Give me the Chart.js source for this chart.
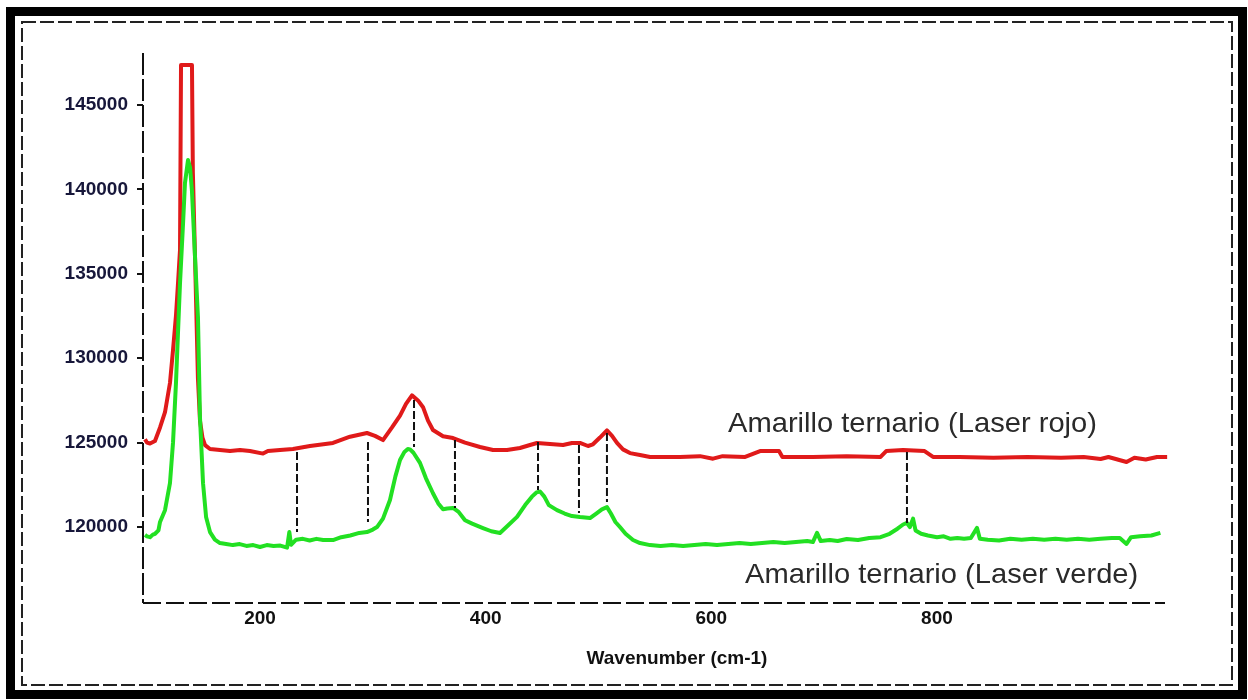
<!DOCTYPE html>
<html>
<head>
<meta charset="utf-8">
<script src="https://cdn.jsdelivr.net/npm/chart.js@4"></script>
<style>
  html, body { margin: 0; padding: 0; background: #fff; }
  #wrap { width: 1248px; height: 700px; }
</style>
</head>
<body>
<div id="wrap"><canvas id="ramanChart" width="1248" height="700"></canvas></div>
<script>
// ============================================================
// Espectros Raman — Amarillo ternario (láser rojo / verde)
// ============================================================

const FONT = '"Liberation Sans", Arial, sans-serif';

const seriesLabels = ['Amarillo ternario (Laser rojo)', 'Amarillo ternario (Laser verde)'];
const axisTitle    = 'Wavenumber (cm-1)';

const xTicks = [200, 400, 600, 800];
const yTicks = [120000, 125000, 130000, 135000, 140000, 145000];

// Laser rojo
const redWavenumber = [98.1, 99.8, 102.5, 106.9, 111.4, 115.8, 120.2, 122.9, 125.5, 127.3, 129.1, 130.0, 139.7, 140.5, 142.4, 145.0,
    146.8, 149.0, 151.3, 155.7, 164.5, 173.4, 182.3, 191.1, 202.7, 207.0, 217.7, 229.2, 244.3, 264.7, 279.8, 294.8, 301.9,
    309.0, 317.0, 324.1, 329.4, 334.7, 340.0, 344.5, 348.9, 353.3, 362.2, 371.1, 381.7, 395.0, 406.5, 418.9, 430.4,
    439.3, 445.5, 457.0, 468.6, 476.5, 483.6, 490.7, 495.1, 501.3, 507.5, 512.0, 516.4, 521.7, 527.9, 536.8, 545.7,
    554.5, 572.2, 590.0, 601.5, 610, 630, 643.2, 660, 663, 690, 720, 750, 755, 770, 789, 796.5, 820, 850, 880, 910,
    930, 945, 952, 968, 975, 985, 995, 1004];
const redIntensity = [125200, 125000, 124950, 125100, 125900, 126800, 128530, 130480, 132500, 134400, 136400, 147370, 147370, 141000, 136000, 128800,
    126300, 125300, 124850, 124620, 124560, 124500, 124560, 124500, 124350, 124500, 124560, 124620, 124800, 124980, 125350, 125570, 125400,
    125150, 125900, 126600, 127300, 127800, 127500, 127100, 126300, 125750, 125380, 125270, 125000, 124740, 124560, 124560, 124680,
    124860, 124980, 124920, 124860, 124980, 124980, 124800, 124900, 125300, 125720, 125400, 124980, 124600, 124380, 124270, 124150,
    124150, 124150, 124200, 124050, 124200, 124150, 124500, 124500, 124150, 124150, 124200, 124150, 124500, 124560, 124500, 124150, 124150, 124100, 124150, 124100,
    124150, 124030, 124150, 123850, 124100, 124000, 124150, 124150];

// Laser verde
const greenWavenumber = [98.1, 99.8, 102.5, 105, 107, 110, 111.4, 115.8, 120.2, 122.9, 125.5, 127.3, 129.1, 131.8, 133.5,
    136.2, 138.0, 139.7, 142.4, 145.0, 146.8, 149.5, 152.2, 155.7, 160, 164.5, 170, 176, 182, 188, 194, 200, 206, 212,
    218, 224, 226, 227.5, 232, 238, 244, 250, 256, 264.7, 272, 280, 288, 294.8, 300, 303.7, 309, 315.2, 320, 324.1,
    328, 331, 333, 336, 341.8, 347, 353.3, 358, 362.2, 366, 371.1, 376, 381.7, 388, 397.6, 405, 412.7, 420, 427.8,
    435, 441, 445, 448.2, 452, 456, 463.2, 470, 476.5, 483.6, 492.5, 498, 503, 507.5, 511, 515, 519, 524, 530.6,
    536.8, 545.7, 555, 565, 575, 585, 595, 605, 615, 625, 635, 645, 655, 665, 675, 685, 690, 693.7, 697, 705, 712,
    720, 730, 740, 750, 758, 765, 770, 773.4, 776, 778.8, 781, 786, 792, 800, 806, 812, 818, 824, 830, 835.5, 838,
    845, 855, 865, 875, 885, 895, 905, 915, 925, 935, 945, 955, 962, 968, 972, 980, 990, 998];
const greenIntensity = [119530, 119450, 119400, 119550, 119600, 119800, 120300, 121000, 122600, 125000, 128500, 131500, 134450, 138000, 140380,
    141740, 141300, 139900, 136000, 132440, 126500, 122600, 120600, 119700, 119250, 119050, 119000, 118930, 118990, 118880, 118930, 118820, 118930, 118880,
    118900, 118780, 119700, 118950, 119250, 119300, 119200, 119300, 119230, 119230, 119400, 119500, 119650, 119700, 119850, 120000, 120500, 121600, 123000, 123970,
    124450, 124620, 124600, 124400, 123800, 122900, 122000, 121400, 121050, 121100, 121130, 120900, 120400, 120200, 119940, 119750, 119650, 120100, 120600,
    121300, 121800, 122050, 122100, 121800, 121300, 121000, 120800, 120650, 120590, 120530, 120800, 121050, 121180, 120800, 120300, 120000, 119600, 119230,
    119050, 118930, 118870, 118930, 118870, 118930, 118990, 118930, 118990, 119050, 118990, 119050, 119110, 119050, 119110, 119170, 119110, 119650, 119170, 119230, 119170,
    119290, 119230, 119350, 119400, 119600, 119900, 120150, 120240, 120000, 120500, 119800, 119600, 119500, 119400, 119450, 119300, 119350, 119300, 119350, 119950, 119300,
    119250, 119200, 119300, 119250, 119300, 119250, 119300, 119250, 119300, 119250, 119300, 119350, 119350, 119000, 119400, 119450, 119500, 119650];

// Líneas de correlación entre bandas (discontinuas)
const markerWavenumber = [232.8, 295.7, 336.5, 372.8, 446.4, 482.7, 507.5, 773.4];
const markerTop        = [124443, 125035, 127523, 125154, 125035, 124858, 125568, 124443];
const markerBottom     = [119704, 120296, 124739, 121126, 122192, 120829, 121481, 120237];

const toPoints = (xs, ys) => xs.map((x, i) => ({ x, y: ys[i] }));
const markerPoints = markerWavenumber.flatMap((x, i) => [
    { x, y: markerTop[i] }, { x, y: markerBottom[i] }, { x, y: null }
]);

// Marco negro + borde discontinuo
const framePlugin = {
    id: 'marco',
    beforeDraw(chart) {
        const ctx = chart.ctx;
        ctx.save();
        ctx.fillStyle = '#fff';
        ctx.fillRect(0, 0, chart.width, chart.height);
        ctx.strokeStyle = '#000';
        ctx.lineWidth = 9;
        ctx.strokeRect(10.5, 11.5, 1232, 683);
        ctx.lineWidth = 2;
        ctx.strokeStyle = '#222';
        ctx.setLineDash([14, 4]);
        ctx.strokeRect(22, 22, 1210, 663);
        ctx.restore();
    }
};

// Ejes discontinuos (border.dash no afecta al borde del eje)
const dashedAxesPlugin = {
    id: 'ejesDiscontinuos',
    afterDraw(chart) {
        const { ctx, chartArea: a } = chart;
        ctx.save();
        ctx.strokeStyle = '#111';
        ctx.lineWidth = 2;
        ctx.setLineDash([22, 4]);
        ctx.beginPath();
        ctx.moveTo(a.left, a.top);
        ctx.lineTo(a.left, a.bottom);
        ctx.stroke();
        ctx.setLineDash([18, 5]);
        ctx.beginPath();
        ctx.moveTo(a.left, a.bottom);
        ctx.lineTo(a.right, a.bottom);
        ctx.stroke();
        ctx.restore();
    }
};

// Textos: etiquetas de serie y título del eje
const textPlugin = {
    id: 'etiquetas',
    afterDraw(chart) {
        const ctx = chart.ctx;
        ctx.save();
        ctx.fillStyle = '#2a2a2a';
        ctx.font = '28px ' + FONT;
        ctx.textBaseline = 'alphabetic';
        [[seriesLabels[0], 728, 432], [seriesLabels[1], 745, 583]].forEach(([t, x, y]) => {
            ctx.save();
            ctx.translate(x, y);
            ctx.scale(1.04, 1);
            ctx.fillText(t, 0, 0);
            ctx.restore();
        });
        ctx.fillStyle = '#111';
        ctx.font = 'bold 19px ' + FONT;
        ctx.textAlign = 'center';
        ctx.fillText(axisTitle, 677, 664);
        ctx.restore();
    }
};

new Chart(document.getElementById('ramanChart'), {
    type: 'line',
    data: {
        datasets: [
            {
                label: 'marcadores',
                data: markerPoints,
                borderColor: '#111',
                borderWidth: 2,
                borderDash: [8, 3],
                pointRadius: 0,
                spanGaps: false,
                order: 0
            },
            {
                label: seriesLabels[1],
                data: toPoints(greenWavenumber, greenIntensity),
                borderColor: '#22e022',
                borderWidth: 4,
                borderJoinStyle: 'round',
                pointRadius: 0,
                order: 1
            },
            {
                label: seriesLabels[0],
                data: toPoints(redWavenumber, redIntensity),
                borderColor: '#e01a1a',
                borderWidth: 4,
                borderJoinStyle: 'round',
                pointRadius: 0,
                clip: 8,
                order: 2
            }
        ]
    },
    options: {
        responsive: false,
        animation: false,
        layout: { padding: { left: 0, top: 53, right: 83, bottom: 0 } },
        plugins: { legend: { display: false }, tooltip: { enabled: false } },
        scales: {
            x: {
                type: 'linear',
                min: 96.3,
                max: 1002.1,
                afterFit: s => { s.height = 97; },
                afterBuildTicks: s => { s.ticks = xTicks.map(v => ({ value: v })); },
                grid: { display: false, drawTicks: false },
                border: { display: false },
                ticks: {
                    padding: 4, color: '#111', maxRotation: 0, autoSkip: false,
                    font: { family: FONT, size: 19, weight: 'bold' }
                }
            },
            y: {
                type: 'linear',
                min: 115500,
                max: 148080,
                afterFit: s => { s.width = 143; },
                afterBuildTicks: s => { s.ticks = yTicks.map(v => ({ value: v })); },
                grid: { display: true, drawOnChartArea: false, drawTicks: true, tickLength: 6, color: '#111', lineWidth: 2 },
                border: { display: false },
                ticks: {
                    padding: 9, color: '#17173a', autoSkip: false,
                    font: { family: FONT, size: 19, weight: 'bold' },
                    callback: v => String(v)
                }
            }
        }
    },
    plugins: [framePlugin, dashedAxesPlugin, textPlugin]
});
</script>
</body>
</html>
